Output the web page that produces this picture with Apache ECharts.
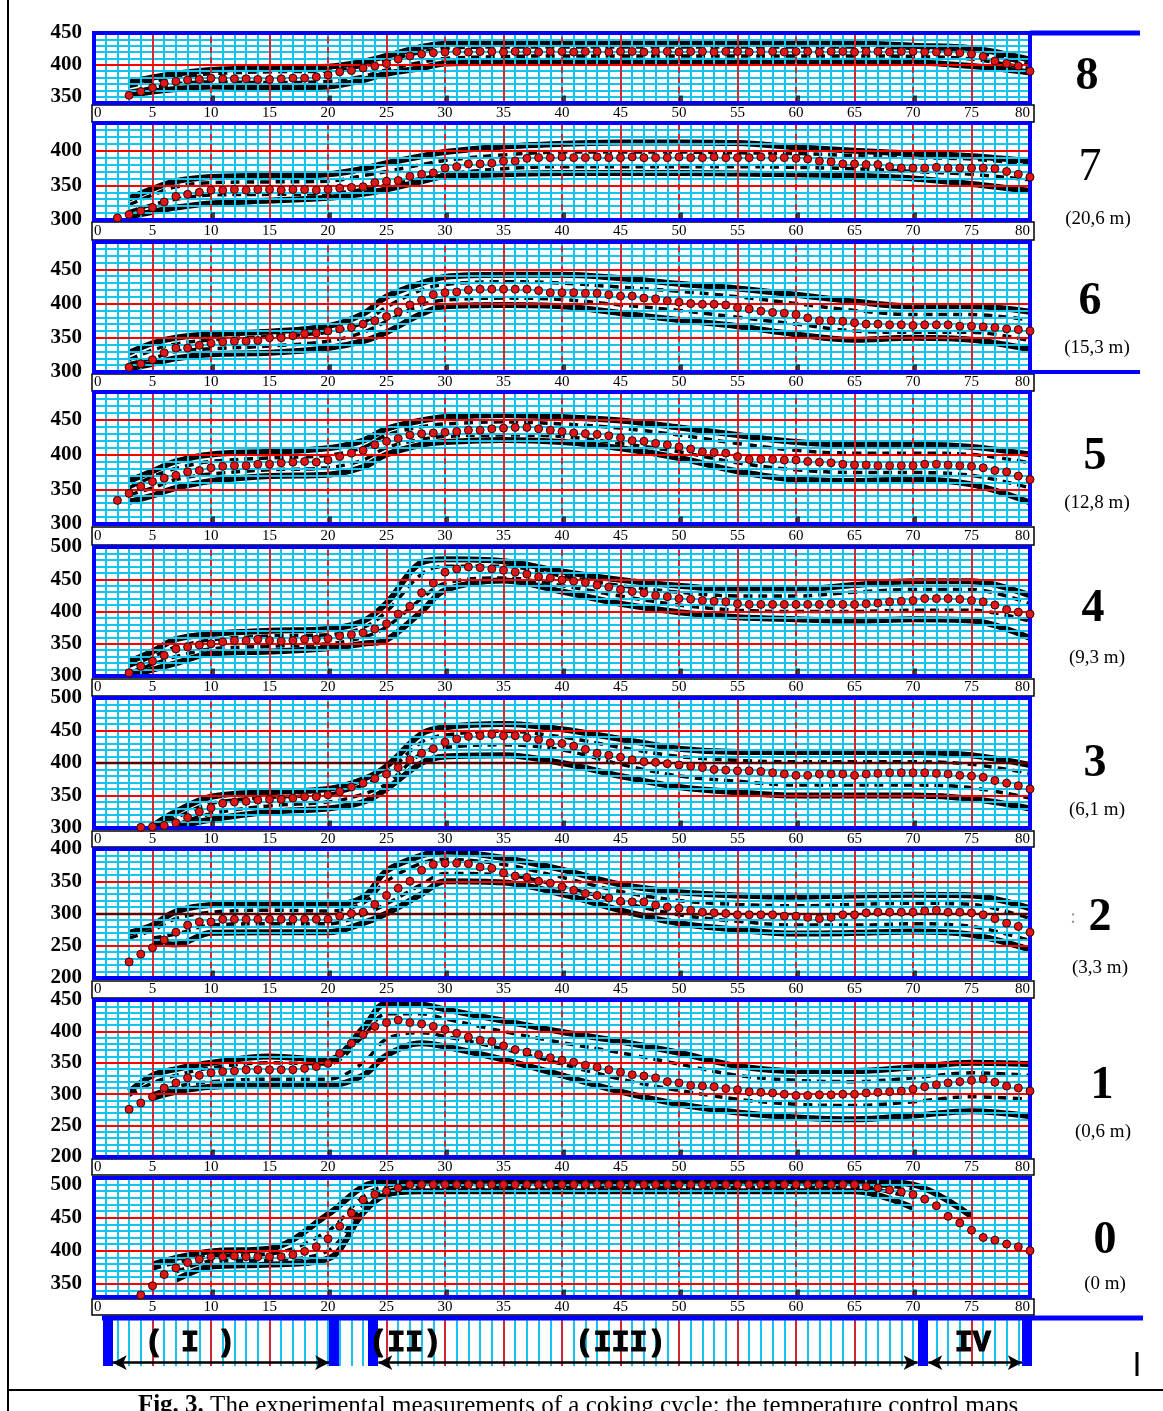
<!DOCTYPE html>
<html><head><meta charset="utf-8">
<script src="https://cdn.jsdelivr.net/npm/echarts@6/dist/echarts.min.js"></script>
<style>html,body{margin:0;padding:0;background:#fff}#c{width:1163px;height:1411px}</style>
</head><body><div id="c"></div>
<script>
// ---------- DATA ----------
const TIME = [0,1,2,3,4,5,6,7,8,9,10,11,12,13,14,15,16,17,18,19,20,21,22,23,24,25,26,27,28,29,30,31,32,33,34,35,36,37,38,39,40,41,42,43,44,45,46,47,48,49,50,51,52,53,54,55,56,57,58,59,60,61,62,63,64,65,66,67,68,69,70,71,72,73,74,75,76,77,78,79,80];
const KT = [3,5,7,10,15,20,23,25,28,30,35,40,45,50,55,60,65,70,75,80];
const RED_X = [5,10,15,20,25,30,35,40,45,50,55,60,65,70,75];
const BOTTOM_MARKS = [10,20,30,40,50,60,70];

// level 8
const P8_MEAN = [null,null,null,352,358,364,371,374,376,377,
 379,378,378,378,377,377,378,379,379,381,
 384,389,391,395,398,402,409,414,417,419,
 420,421,420,421,421,420,421,421,420,421,
 421,420,421,421,420,421,421,420,421,421,
 420,421,421,420,421,421,420,421,421,420,
 421,421,420,421,421,420,421,421,420,421,
 421,420,420,420,419,417,413,406,402,398,
 390];
const P8_U1 = [372,380,386,392,395,397,405,414,428,433,435,435,435,435,435,435,434,430,426,408];
const P8_U2 = [366,374,380,386,389,390,398,407,420,426,428,428,428,428,428,428,428,426,421,400];
const P8_L2 = [358,364,370,373,372,374,382,392,404,410,413,414,414,414,414,414,414,413,409,394];
const P8_L1 = [352,358,362,366,364,366,376,386,395,402,404,405,405,405,405,405,405,404,398,388];
const P8_RED_Y = [400];

// level 7
const P7_MEAN = [null,null,303,308,313,318,326,334,337,340,
 343,343,344,343,344,344,343,344,344,343,
 344,346,347,348,354,356,357,363,366,368,
 375,377,381,381,382,385,385,389,390,390,
 391,390,390,391,390,390,391,390,390,390,
 391,390,390,391,390,390,390,391,390,390,
 389,388,385,384,381,381,380,380,377,375,
 375,375,376,375,375,375,375,374,370,366,
 362];
const P7_U1 = [331,345,356,362,364,366,374,382,392,398,406,410,412,412,411,405,400,396,392,385];
const P7_U2 = [322,336,348,354,355,356,364,370,380,386,394,398,398,398,397,396,393,390,388,380];
const P7_L2 = [312,322,330,336,337,338,344,350,360,366,374,377,377,377,377,376,374,370,366,358];
const P7_L1 = [305,312,318,324,328,332,338,344,356,363,366,368,368,368,367,366,364,360,352,342];
const P7_RED_Y = [350,400];

// level 6
const P6_MEAN = [null,null,null,307,312,318,328,335,335,339,
 342,344,345,345,346,350,350,353,356,357,
 360,363,365,370,375,381,388,398,405,413,
 416,417,420,421,421,421,421,421,419,416,
 416,416,415,415,413,411,411,408,407,404,
 402,400,399,399,398,394,392,389,387,386,
 384,379,375,375,374,372,370,370,369,369,
 368,369,369,369,367,367,366,365,363,362,
 360];
const P6_U1 = [328,342,350,355,359,367,385,410,430,439,442,442,437,429,422,413,403,396,396,388];
const P6_U2 = [318,332,341,347,352,358,372,395,420,428,432,430,424,418,410,400,390,384,384,376];
const P6_L2 = [312,320,330,334,338,345,358,374,398,405,408,406,398,390,380,370,360,358,358,346];
const P6_L1 = [305,312,320,326,328,335,345,358,385,396,398,396,386,376,367,355,347,350,347,333];
const P6_RED_Y = [350,400,450];

// level 5
const P5_MEAN = [null,null,334,344,354,361,366,370,375,377,
 381,383,384,384,386,386,388,389,390,389,
 392,397,402,406,414,419,423,428,430,431,
 432,433,435,435,437,438,439,439,437,435,
 433,431,430,429,427,424,420,419,416,414,
 411,408,404,403,402,397,393,393,393,392,
 392,390,389,388,386,385,385,384,384,384,
 384,386,386,385,384,383,381,377,375,369,
 364];
const P5_U1 = [362,376,390,400,404,409,420,437,449,454,457,454,449,439,428,418,414,414,411,400];
const P5_U2 = [352,368,380,390,395,399,410,428,440,444,447,444,438,428,416,406,402,402,400,388];
const P5_L2 = [342,352,364,372,378,381,392,410,422,426,428,426,416,404,388,378,374,374,370,352];
const P5_L1 = [332,341,352,362,369,371,382,400,414,418,421,418,409,395,376,364,362,364,357,331];
const P5_RED_Y = [350,400,450];

// level 4
const P4_MEAN = [null,null,null,305,315,323,332,342,345,348,
 350,353,355,355,357,355,354,355,357,357,
 358,362,364,367,373,381,396,408,429,444,
 461,466,469,468,466,464,461,458,454,452,
 449,447,445,441,438,434,431,429,425,423,
 420,419,417,416,415,412,411,411,411,411,
 411,411,411,412,411,411,412,413,415,416,
 417,420,420,420,419,417,415,410,403,399,
 396];
const P4_U1 = [322,338,357,365,370,373,385,413,476,481,478,462,449,440,434,434,441,447,447,425];
const P4_U2 = [315,330,345,356,362,364,375,400,458,470,470,455,440,430,424,424,430,434,434,412];
const P4_L2 = [305,318,330,342,346,350,360,376,420,444,452,440,424,410,402,400,400,402,402,385];
const P4_L1 = [301,310,320,335,338,343,350,356,400,433,448,431,412,399,391,388,386,388,386,359];
const P4_RED_Y = [350,400,450];

// level 3
const P3_MEAN = [null,null,null,null,301,302,304,308,316,325,
 331,338,340,341,343,344,344,346,348,348,
 351,356,363,369,376,383,393,405,415,422,
 432,437,441,442,444,442,442,439,436,431,
 430,426,421,415,412,409,405,402,401,399,
 397,395,393,390,389,388,388,387,385,383,
 381,381,383,383,383,381,383,384,385,385,
 385,385,384,383,381,380,378,373,369,365,
 360];
const P3_U1 = [null,303,325,348,355,360,375,395,445,455,460,452,437,422,417,417,417,417,412,397];
const P3_U2 = [null,301,316,338,347,352,366,385,432,443,449,440,424,410,404,402,402,402,398,384];
const P3_L2 = [null,null,305,322,334,340,352,368,415,424,428,420,398,380,372,366,366,366,362,346];
const P3_L1 = [null,null,301,313,325,330,340,360,400,410,412,400,380,363,355,350,350,350,345,330];
const P3_RED_Y = [350,450];
const P3_DARK_Y = [400];

// level 2
const P2_MEAN = [null,null,null,225,237,247,259,271,282,287,
 287,291,291,291,291,291,291,291,291,291,
 291,296,300,302,314,328,339,350,367,376,
 378,378,377,372,370,363,358,356,350,347,
 341,336,331,328,324,319,318,318,313,310,
 308,305,302,301,300,298,298,298,298,296,
 296,294,292,294,298,298,301,302,302,302,
 302,304,305,302,302,301,298,292,285,280,
 271];
const P2_U1 = [270,282,303,313,315,313,325,366,390,396,386,368,345,333,328,326,328,329,328,308];
const P2_U2 = [262,274,292,302,305,304,316,350,378,384,376,356,334,320,314,312,314,316,314,292];
const P2_L2 = [null,262,268,282,284,284,298,315,345,362,360,342,318,298,288,282,282,284,280,258];
const P2_L1 = [null,256,252,270,271,271,285,300,330,350,348,330,305,285,275,269,270,272,267,244];
const P2_RED_Y = [250,350];
const P2_DARK_Y = [300];

// level 1
const P1_MEAN = [null,null,null,276,286,296,310,318,326,330,
 334,336,337,339,339,339,339,339,341,344,
 349,365,381,395,408,414,418,414,412,408,
 403,397,391,386,384,377,371,367,363,358,
 354,351,346,343,339,335,331,329,326,320,
 318,314,313,312,309,307,304,303,302,300,
 298,298,299,299,300,300,302,303,304,305,
 308,312,315,318,320,322,324,319,313,310,
 305];
const P1_U1 = [304,330,340,350,360,355,405,445,443,435,417,399,384,366,345,337,337,343,350,348];
const P1_U2 = [298,318,330,342,350,348,392,428,428,420,400,382,366,348,330,322,320,326,334,330];
const P1_L2 = [null,300,312,320,324,324,350,388,398,392,372,348,324,306,292,284,282,288,296,292];
const P1_L1 = [null,294,304,312,314,314,330,362,381,376,355,330,304,284,271,263,260,266,273,265];
const P1_RED_Y = [250,300,350,400];

// level 0
const P0_MEAN = [null,null,null,null,333,347,364,374,382,387,
 391,391,392,391,391,391,391,394,399,406,
 418,437,457,477,485,490,495,500,500,500,
 500,500,500,500,500,500,500,500,500,500,
 500,500,500,500,500,500,500,500,500,500,
 500,500,500,500,500,500,500,500,500,500,
 500,500,500,500,500,500,497,495,492,489,
 485,478,468,452,442,431,420,416,410,406,
 400];
const P0_U1 = [null,379,389,399,403,455,497,505,506,506,506,506,506,506,506,506,506,500,452,null];
const P0_U2 = [null,372,382,392,395,430,482,498,500,500,500,500,500,500,500,500,500,494,null,null];
const P0_L2 = [null,null,368,384,386,400,468,490,496,496,496,496,496,496,496,496,496,480,null,null];
const P0_L1 = [null,null,356,376,379,388,457,485,490,490,490,490,490,490,490,490,490,465,null,null];
const P0_RED_Y = [350,400,450];

// phases
const PHASE_NAMES = ['( I )','(II)','(III)','IV'];
const PHASE_LABEL_T = [8.2,26.6,45.0,75.1];
const PHASE_BOUNDS = [1.2,20.5,23.8,70.8,79.7];
const PHASE_ARROWS = [[1.6,20.1],[24.3,70.4],[71.3,79.3]];
const BAR_RED_X = [5,10,15,25,30,35,40,45,50,55,60,65,75];

// ---------- LAYOUT ----------
const CYAN = '#14c3ee', RED = '#ff0000', BLUE = '#0000ff';
const PANELS = [
 {name:'8', depth:null,        mean:P8_MEAN, env:[P8_U1,P8_U2,P8_L2,P8_L1], min:340, max:450, redY:P8_RED_Y, darkY:[],        top:33,   bottom:103,  stripTop:105,  stripH:17, lab:[1087,77],   dep:null,        bold:true},
 {name:'7', depth:'(20,6 m)',  mean:P7_MEAN, env:[P7_U1,P7_U2,P7_L2,P7_L1], min:300, max:440, redY:P7_RED_Y, darkY:[],        top:123,  bottom:220,  stripTop:222,  stripH:18, lab:[1090,168],  dep:[1098,219],  bold:false},
 {name:'6', depth:'(15,3 m)',  mean:P6_MEAN, env:[P6_U1,P6_U2,P6_L2,P6_L1], min:300, max:490, redY:P6_RED_Y, darkY:[],        top:242,  bottom:372,  stripTop:374,  stripH:17, lab:[1090,302],  dep:[1097,348],  bold:true},
 {name:'5', depth:'(12,8 m)',  mean:P5_MEAN, env:[P5_U1,P5_U2,P5_L2,P5_L1], min:300, max:490, redY:P5_RED_Y, darkY:[],        top:392,  bottom:524,  stripTop:527,  stripH:18, lab:[1095,457],  dep:[1097,503],  bold:true},
 {name:'4', depth:'(9,3 m)',   mean:P4_MEAN, env:[P4_U1,P4_U2,P4_L2,P4_L1], min:300, max:500, redY:P4_RED_Y, darkY:[],        top:547,  bottom:676,  stripTop:679,  stripH:17, lab:[1093,609],  dep:[1097,658],  bold:true},
 {name:'3', depth:'(6,1 m)',   mean:P3_MEAN, env:[P3_U1,P3_U2,P3_L2,P3_L1], min:300, max:500, redY:P3_RED_Y, darkY:P3_DARK_Y, top:698,  bottom:828,  stripTop:831,  stripH:16, lab:[1095,764],  dep:[1097,810],  bold:true},
 {name:'2', depth:'(3,3 m)',   mean:P2_MEAN, env:[P2_U1,P2_U2,P2_L2,P2_L1], min:200, max:400, redY:P2_RED_Y, darkY:P2_DARK_Y, top:849,  bottom:978,  stripTop:981,  stripH:17, lab:[1100,918],  dep:[1100,968],  bold:true},
 {name:'1', depth:'(0,6 m)',   mean:P1_MEAN, env:[P1_U1,P1_U2,P1_L2,P1_L1], min:200, max:450, redY:P1_RED_Y, darkY:[],        top:1000, bottom:1157, stripTop:1159, stripH:16, lab:[1102,1086], dep:[1103,1132], bold:true},
 {name:'0', depth:'(0 m)',     mean:P0_MEAN, env:[P0_U1,P0_U2,P0_L2,P0_L1], min:330, max:510, redY:P0_RED_Y, darkY:[],        top:1178, bottom:1297, stripTop:1299, stripH:16, lab:[1105,1241], dep:[1105,1284], bold:true}
];
const GL = 94, GW = 936;

const grids = [], xAxes = [], yAxes = [], series = [], graphics = [];

PANELS.forEach((p, i) => {
  grids.push({left: GL, width: GW, top: p.top, height: p.bottom - p.top, show: true,
    borderColor: BLUE, borderWidth: 4, backgroundColor: 'transparent', z: 6});
  const xMargin = Math.round(p.stripTop + p.stripH / 2 - 7.5 - p.bottom);
  xAxes.push({gridIndex: i, type: 'value', min: 0, max: 80, interval: 1, z: 3,
    axisLine: {show: false}, axisTick: {show: false},
    splitLine: {show: true, lineStyle: {color: CYAN, width: 2}},
    axisLabel: {show: true, margin: xMargin, fontFamily: 'Liberation Serif', fontSize: 15, color: '#000',
      alignMinLabel: 'left', alignMaxLabel: 'right',
      formatter: v => (v % 5 === 0 ? String(v) : '')}});
  yAxes.push({gridIndex: i, type: 'value', min: p.min, max: p.max, interval: 10, z: 3,
    axisLine: {show: false}, axisTick: {show: false},
    splitLine: {show: true, lineStyle: {color: CYAN, width: 2}},
    axisLabel: {margin: 12, fontFamily: 'Liberation Serif', fontWeight: 'bold', fontSize: 21, color: '#000',
      formatter: v => (v % 50 === 0 ? String(v) : '')}});

  // envelopes
  p.env.forEach((arr, k) => {
    const outer = (k === 0 || k === 3);
    series.push({type: 'line', xAxisIndex: i, yAxisIndex: i, silent: true, animation: false,
      data: KT.map((t, j) => [t, arr[j]]), smooth: 0.35, showSymbol: false, symbol: 'none',
      connectNulls: false, z: 2,
      lineStyle: outer ? {color: '#000', width: 6} : {color: '#000', width: 3.5, type: [9, 6]}});
  });

  // red grid lines
  const ml = RED_X.map(t => ({xAxis: t, lineStyle: {color: RED, width: 1.6, type: (t % 10 === 0) ? [6, 4] : 'solid'}}))
    .concat(p.redY.map(v => ({yAxis: v, lineStyle: {color: RED, width: 1.8, type: 'solid'}})))
    .concat(p.darkY.map(v => ({yAxis: v, lineStyle: {color: '#5a0000', width: 2.4, type: 'solid'}})));
  series.push({type: 'line', xAxisIndex: i, yAxisIndex: i, data: [], silent: true, z: 4, animation: false,
    markLine: {silent: true, symbol: ['none', 'none'], animation: false, label: {show: false},
      emphasis: {disabled: true}, data: ml}});

  // small black marks at the bottom
  series.push({type: 'scatter', xAxisIndex: i, yAxisIndex: i, silent: true, z: 5, animation: false,
    symbol: 'rect', symbolSize: [4, 7], symbolOffset: [2, -4], itemStyle: {color: '#111'},
    data: BOTTOM_MARKS.map(t => [t, p.min])});

  // mean temperatures
  series.push({type: 'scatter', xAxisIndex: i, yAxisIndex: i, z: 7, animation: false,
    symbolSize: 8, itemStyle: {color: '#e01515', borderColor: '#3a0000', borderWidth: 1, opacity: 1},
    data: TIME.map((t, j) => (p.mean[j] == null ? null : [t, p.mean[j]])).filter(Boolean)});

  // label strip box
  graphics.push({type: 'rect', z: 1, shape: {x: 92, y: p.stripTop, width: 942, height: p.stripH},
    style: {fill: '#fff', stroke: '#000', lineWidth: 1.5}});
  // level number and depth
  graphics.push({type: 'text', z: 20, x: p.lab[0], y: p.lab[1],
    style: {text: p.name, font: (p.bold ? 'bold ' : '') + '46px "Liberation Serif"', fill: '#000',
      textAlign: 'center', textVerticalAlign: 'middle', align: 'center', verticalAlign: 'middle'}});
  if (p.depth) {
    graphics.push({type: 'text', z: 20, x: p.dep[0], y: p.dep[1],
      style: {text: p.depth, font: '19px "Liberation Serif"', fill: '#000',
        textAlign: 'center', textVerticalAlign: 'middle', align: 'center', verticalAlign: 'middle'}});
  }
});

// ---------- phase bar ----------
const bi = PANELS.length;
grids.push({left: GL + 11.7, width: GW - 11.7, top: 1318, height: 48, show: false});
xAxes.push({gridIndex: bi, type: 'value', min: 1, max: 80, interval: 1, z: 3,
  axisLine: {show: false}, axisTick: {show: false}, axisLabel: {show: false},
  splitLine: {show: true, lineStyle: {color: CYAN, width: 2}}});
yAxes.push({gridIndex: bi, type: 'value', min: 0, max: 1, show: false, splitLine: {show: false}});
series.push({type: 'line', xAxisIndex: bi, yAxisIndex: bi, data: [], silent: true, z: 4, animation: false,
  markLine: {silent: true, symbol: ['none', 'none'], animation: false, label: {show: false}, emphasis: {disabled: true},
    data: BAR_RED_X.map(t => ({xAxis: t, lineStyle: {color: RED, width: 1.6, type: 'solid'}}))
      .concat(PHASE_BOUNDS.map(t => ({xAxis: t, lineStyle: {color: BLUE, width: 10, type: 'solid'}})))}});
series.push({type: 'line', xAxisIndex: bi, yAxisIndex: bi, data: [], silent: true, z: 6, animation: false,
  markLine: {silent: true, symbol: ['arrow', 'arrow'], symbolSize: [11, 14], animation: false, label: {show: false},
    emphasis: {disabled: true}, lineStyle: {color: '#000', width: 2.5, type: 'solid'},
    data: PHASE_ARROWS.map(a => [{coord: [a[0], 0.07]}, {coord: [a[1], 0.07]}])}});
series.push({type: 'scatter', xAxisIndex: bi, yAxisIndex: bi, silent: true, z: 8, animation: false,
  symbolSize: 0,
  label: {show: true, position: 'inside', formatter: '{b}', fontFamily: 'Liberation Mono', fontWeight: 'bold',
    fontSize: 30, color: '#000', opacity: 1, textBorderColor: '#000', textBorderWidth: 1.2},
  data: PHASE_NAMES.map((n, k) => ({name: n, value: [PHASE_LABEL_T[k], 0.47]}))});

// ---------- decorations ----------
graphics.push({type: 'line', z: 20, shape: {x1: 8, y1: 0, x2: 8, y2: 1411}, style: {stroke: '#000', lineWidth: 2}});
graphics.push({type: 'line', z: 20, shape: {x1: 8, y1: 1390, x2: 1163, y2: 1390}, style: {stroke: '#000', lineWidth: 2}});
graphics.push({type: 'line', z: 20, shape: {x1: 1030, y1: 33, x2: 1140, y2: 33}, style: {stroke: BLUE, lineWidth: 5}});
graphics.push({type: 'line', z: 20, shape: {x1: 1030, y1: 372, x2: 1140, y2: 372}, style: {stroke: BLUE, lineWidth: 4}});
graphics.push({type: 'line', z: 20, shape: {x1: 102, y1: 1318, x2: 1143, y2: 1318}, style: {stroke: BLUE, lineWidth: 5}});
graphics.push({type: 'line', z: 20, shape: {x1: 1137, y1: 1352, x2: 1137, y2: 1376}, style: {stroke: '#000', lineWidth: 3}});
graphics.push({type: 'text', z: 20, x: 1073, y: 918,
  style: {text: ':', font: '20px "Liberation Serif"', fill: '#999', textAlign: 'center', textVerticalAlign: 'middle', align: 'center', verticalAlign: 'middle'}});
graphics.push({type: 'text', z: 20, x: 578, y: 1406,
  style: {text: '{b|Fig. 3.} The experimental measurements of a coking cycle: the temperature control maps',
    rich: {b: {fontWeight: 'bold', fontSize: 25, fontFamily: 'Liberation Serif', fill: '#000'}},
    font: '25px "Liberation Serif"', fill: '#000',
    textAlign: 'center', textVerticalAlign: 'middle', align: 'center', verticalAlign: 'middle'}});

const chart = echarts.init(document.getElementById('c'), null, {renderer: 'canvas'});
chart.setOption({
  animation: false,
  backgroundColor: '#fff',
  grid: grids, xAxis: xAxes, yAxis: yAxes, series: series,
  graphic: {elements: graphics}
});
</script>
</body></html>
